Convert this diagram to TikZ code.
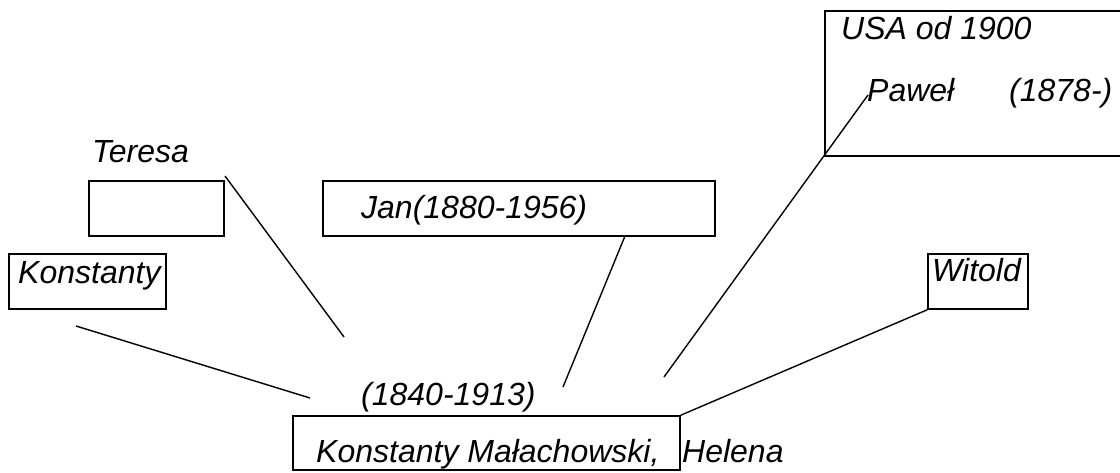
\documentclass[tikz,border=0pt]{standalone}
\usepackage{fontspec}
\setmainfont{Liberation Sans}
\begin{document}
\begin{tikzpicture}[x=1pt,y=-1pt,
  boxframe/.style={draw, line width=1.6pt, inner sep=0pt},
  persontext/.style={inner sep=0pt, anchor=base west, font=\fontsize{32}{38}\selectfont\itshape},
  link/.style={line width=1.4pt}]
\useasboundingbox (0,0) rectangle (1120,473);
\clip (0,0) rectangle (1120,473);

% frames
\node[boxframe, minimum width=135pt, minimum height=55pt] (empty) at (156.5,208.5) {};
\node[boxframe, minimum width=157pt, minimum height=55pt] (kbox) at (87.5,281.5) {};
\node[boxframe, minimum width=392pt, minimum height=55pt] (janbox) at (519,208.5) {};
\node[boxframe, minimum width=310pt, minimum height=145pt] (usabox) at (980,83.5) {};
\node[boxframe, minimum width=100pt, minimum height=55pt] (witbox) at (978,281.5) {};
\node[boxframe, minimum width=387pt, minimum height=54pt] (mainbox) at (486.5,443) {};

% texts
\node[persontext] (teresa) at (92,163) {Teresa};
\node[persontext] (konst) at (18,284) {Konstanty};
\node[persontext] (jan) at (361,219) {Jan(1880-1956)};
\node[persontext] (usa) at (841,40) {USA od 1900};
\node[persontext] (pawel) at (867,102) {Paweł};
\node[persontext] (pawelyr) at (1009,102) {(1878-)};
\node[persontext] (witold) at (932,282) {Witold};
\node[persontext] (years) at (361,405) {(1840-1913)};
\node[persontext] (kmal) at (316,462) {Konstanty Małachowski,};
\node[persontext] (helena) at (682,462) {Helena};

% line end points
\coordinate (k1) at (76,326);
\coordinate (k2) at (310,398);
\coordinate (t1) at (225,176);
\coordinate (t2) at (344,337);
\coordinate (j1) at (625,236);
\coordinate (j2) at (563,387);
\coordinate (p1) at (868,95);
\coordinate (p2) at (664,377);

% connectors
\draw[link] (k1) -- (k2);
\draw[link] (t1) -- (t2);
\draw[link] (j1) -- (j2);
\draw[link] (p1) -- (p2);
\draw[link] (witbox.south west) -- (mainbox.north east);
\end{tikzpicture}
\end{document}
